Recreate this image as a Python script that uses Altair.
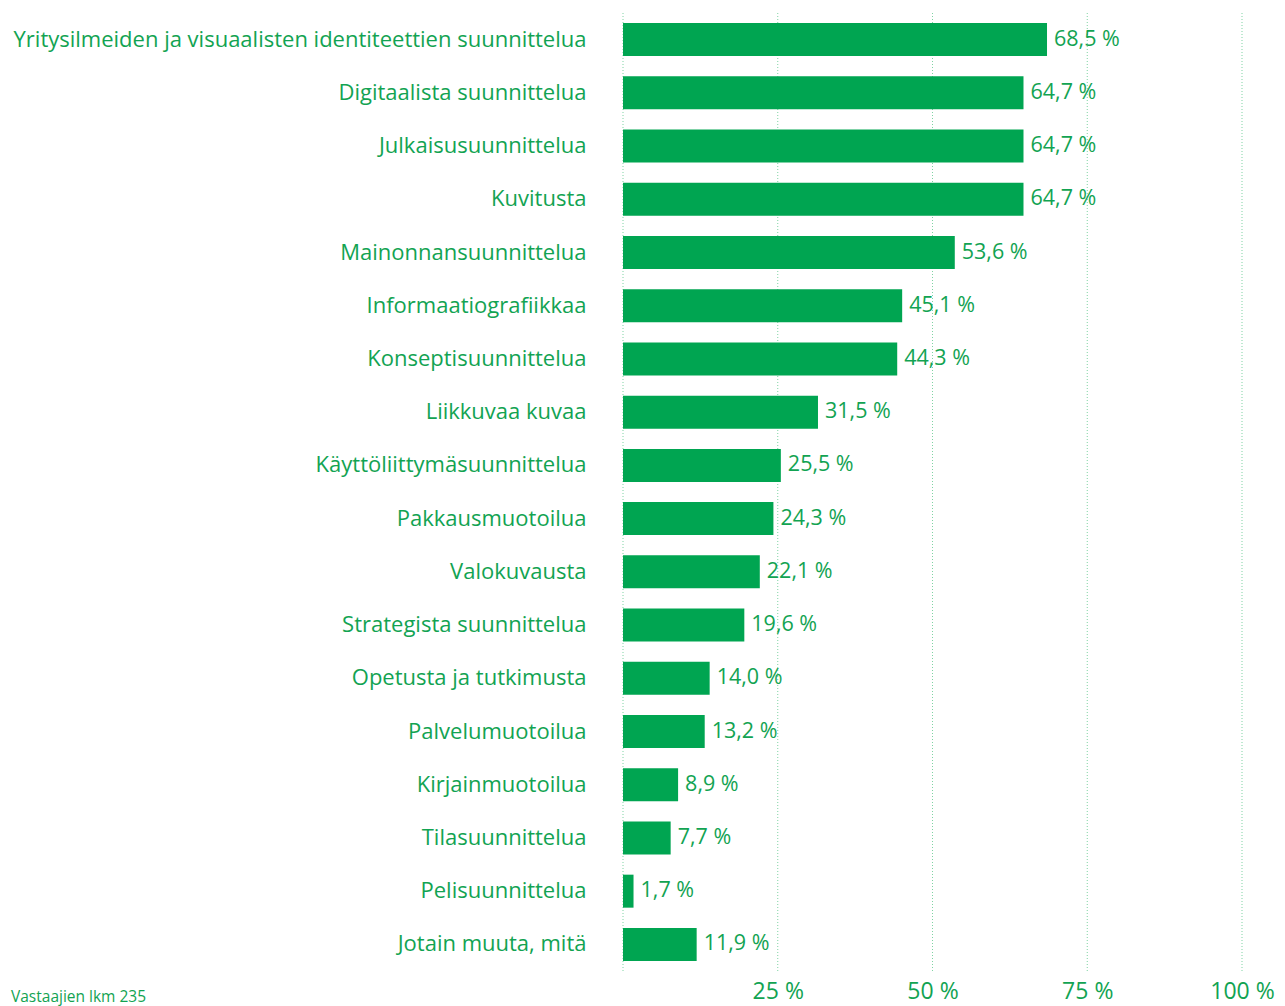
import altair as alt
import pandas as pd

categories = [
    "Yritysilmeiden ja visuaalisten identiteettien suunnittelua",
    "Digitaalista suunnittelua",
    "Julkaisusuunnittelua",
    "Kuvitusta",
    "Mainonnansuunnittelua",
    "Informaatiografiikkaa",
    "Konseptisuunnittelua",
    "Liikkuvaa kuvaa",
    "Käyttöliittymäsuunnittelua",
    "Pakkausmuotoilua",
    "Valokuvausta",
    "Strategista suunnittelua",
    "Opetusta ja tutkimusta",
    "Palvelumuotoilua",
    "Kirjainmuotoilua",
    "Tilasuunnittelua",
    "Pelisuunnittelua",
    "Jotain muuta, mitä",
]
values = [68.5, 64.7, 64.7, 64.7, 53.6, 45.1, 44.3, 31.5, 25.5, 24.3, 22.1, 19.6, 14.0, 13.2, 8.9, 7.7, 1.7, 11.9]
tick_values = [25, 50, 75, 100]
grid_values = [0, 25, 50, 75, 100]
footnote = "Vastaajien lkm 235"

GREEN = "#00a551"
TEXT = "#12a352"
FONT = "Open Sans"

df = pd.DataFrame({"cat": categories, "val": values})
df["label"] = [f"{v:.1f}".replace(".", ",") + " %" for v in values]

y_enc = alt.Y("cat:N", sort=categories,
              scale=alt.Scale(paddingInner=0.38, paddingOuter=0.19),
              axis=alt.Axis(title=None, domain=False, ticks=False, labelPadding=37,
                            labelFontSize=22, labelColor=TEXT, labelFont=FONT,
                            labelLimit=700))
x_enc = alt.X("val:Q", scale=alt.Scale(domain=[0, 100], nice=False),
              axis=alt.Axis(title=None, values=tick_values, domain=False, ticks=False,
                            grid=False, labelExpr="datum.value + ' %'",
                            labelFlush=False, labelOverlap=False,
                            labelFontSize=23, labelColor=TEXT, labelFont=FONT,
                            labelPadding=9))

grid = alt.Chart(pd.DataFrame({"g": grid_values})).mark_rule(
    color="#7fd3a3", strokeDash=[1, 2], strokeWidth=1
).encode(x=alt.X("g:Q", scale=alt.Scale(domain=[0, 100], nice=False)))

bars = alt.Chart(df).mark_bar(color=GREEN).encode(x=x_enc, y=y_enc)

labels = alt.Chart(df).mark_text(
    align="left", baseline="middle", dx=7, fontSize=21.5, color=TEXT, font=FONT
).encode(x="val:Q", y=alt.Y("cat:N", sort=categories), text="label:N")

foot = alt.Chart(pd.DataFrame({"t": [footnote]})).mark_text(
    align="left", baseline="middle", fontSize=15.5, color=TEXT, font=FONT
).encode(x=alt.value(-612), y=alt.value(984), text="t:N")

chart = alt.layer(grid, bars, labels, foot).properties(
    width=619, height=958,
    padding={"left": 3, "top": 4, "right": 0, "bottom": 0},
).configure(background="white").configure_view(stroke=None)

chart.save("out.html", embed_options={"renderer": "svg", "actions": False})
